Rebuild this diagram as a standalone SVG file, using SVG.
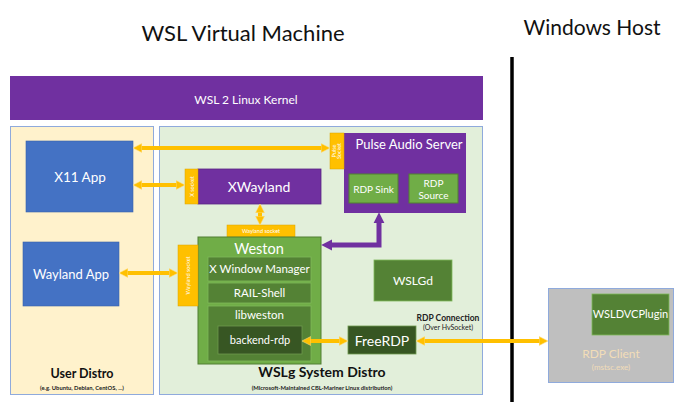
<svg xmlns="http://www.w3.org/2000/svg" width="690" height="402" viewBox="0 0 690 402">
<style>
text{font-family:Lato,"Open Sans",sans-serif;text-anchor:middle}
.w{fill:#fff}
.purple{fill:#7030A0}
.blue{fill:#4472C4;stroke:#3a62aa;stroke-width:0.6}
.yel{fill:#FFC000;stroke:#d9a400;stroke-width:0.5}
.g1{fill:#70AD47;stroke:#507E32;stroke-width:1}
.g2{fill:#548235;stroke:#7fb85a;stroke-width:0.8}
.g3{fill:#375623;stroke:#6e9a4e;stroke-width:0.8}
.ya{stroke:#FFC000;stroke-width:4;fill:none}
.pa{stroke:#7030A0;stroke-width:5;fill:none;stroke-linejoin:miter}
.sock{font-size:5.5px;fill:#fff}
</style>
<defs>
<marker id="yh" viewBox="0 0 10 10" refX="2" refY="5" markerWidth="9" markerHeight="11" markerUnits="userSpaceOnUse" orient="auto-start-reverse">
<path d="M0,0 L10,5 L0,10 Z" fill="#FFC000" stroke="#ffe08a" stroke-width="0.6"/>
</marker>
<marker id="ph" viewBox="0 0 10 10" refX="2" refY="5" markerWidth="11" markerHeight="14" markerUnits="userSpaceOnUse" orient="auto-start-reverse">
<path d="M0,0 L10,5 L0,10 Z" fill="#7030A0"/>
</marker>
</defs>
<rect width="690" height="402" fill="#fff"/>
<text x="243" y="41" font-size="22" fill="#111">WSL Virtual Machine</text>
<text x="592" y="35" font-size="21" fill="#111">Windows Host</text>
<line x1="512" y1="57" x2="512" y2="402" stroke="#000" stroke-width="3.5"/>

<g id="kernel">
<rect x="10" y="76" width="473" height="44" class="purple"/>
<text x="246" y="104" font-size="12" class="w">WSL 2 Linux Kernel</text>
</g>
<g id="user-distro">
<rect x="10.5" y="126.5" width="143" height="268" fill="#FFF2CC" stroke="#8FAADC" stroke-width="1"/>
<text x="82" y="378" font-size="12.5" font-weight="bold" fill="#111">User Distro</text>
<text x="82" y="390" font-size="5.8" font-weight="bold" fill="#222">(e.g. Ubuntu, Debian, CentOS, ...)</text>
</g>
<g id="wslg-distro">
<rect x="159.5" y="126.5" width="323" height="268" fill="#E2EFDA" stroke="#8FAADC" stroke-width="1"/>
<text x="322" y="377" font-size="14" font-weight="bold" fill="#111">WSLg System Distro</text>
<text x="322" y="390" font-size="5.8" font-weight="bold" fill="#222">(Microsoft-Maintained CBL-Mariner Linux distribution)</text>
</g>
<g id="x11-app">
<rect x="26" y="141" width="107" height="71" class="blue"/>
<text x="80" y="182" font-size="13.5" class="w">X11 App</text>
</g>
<g id="wayland-app">
<rect x="23" y="242" width="96" height="64" class="blue"/>
<text x="71" y="279" font-size="13" class="w">Wayland App</text>
</g>
<g id="pulse-audio">
<rect x="344" y="133" width="122" height="80" class="purple"/>
<text x="409" y="149" font-size="13" class="w">Pulse Audio Server</text>
<rect x="330" y="133" width="14" height="36" class="yel"/>
<text class="sock" font-size="4.5" transform="translate(336 151) rotate(-90)">Pulse</text>
<text class="sock" font-size="4.5" transform="translate(341 151) rotate(-90)">Socket</text>
</g>
<g id="rdp-sink">
<rect x="349" y="174" width="49" height="29" class="g1" stroke="none"/>
<text x="373.5" y="193" font-size="10" class="w">RDP Sink</text>
</g>
<g id="rdp-source">
<rect x="409" y="174" width="49" height="29" class="g1" stroke="none"/>
<text x="433.5" y="187" font-size="10" class="w">RDP</text>
<text x="433.5" y="199" font-size="10" class="w">Source</text>
</g>
<g id="xwayland">
<rect x="198" y="169" width="123" height="35" class="purple" stroke="#5a2683" stroke-width="0.8"/>
<text x="259" y="192" font-size="14" class="w">XWayland</text>
<rect x="185" y="169" width="13" height="35" class="yel"/>
<text class="sock" transform="translate(193.5 186.5) rotate(-90)">X socket</text>
</g>
<g id="wayland-socket-top">
<rect x="227" y="225" width="68" height="12" class="yel"/>
<text x="261" y="233" class="sock">Wayland socket</text>
</g>
<g id="weston">
<rect x="198" y="237" width="123" height="127" class="g1"/>
<text x="259" y="254" font-size="14.5" class="w">Weston</text>
<rect x="178" y="245" width="20" height="61" class="yel"/>
<text class="sock" transform="translate(190 275.5) rotate(-90)">Wayland socket</text>
</g>
<g id="x-window-manager">
<rect x="208" y="257" width="103" height="24" class="g2"/>
<text x="259.5" y="273" font-size="11.5" class="w">X Window Manager</text>
</g>
<g id="rail-shell">
<rect x="208" y="283" width="103" height="20" class="g2"/>
<text x="259.5" y="297" font-size="11.5" class="w">RAIL-Shell</text>
</g>
<g id="libweston">
<rect x="208" y="306" width="103" height="55" class="g2"/>
<text x="259.5" y="319" font-size="11.5" class="w">libweston</text>
</g>
<g id="backend-rdp">
<rect x="218" y="326" width="84" height="28" class="g3"/>
<text x="260" y="344" font-size="11" class="w">backend-rdp</text>
</g>
<g id="wslgd">
<rect x="374" y="260" width="78" height="41" class="g2"/>
<text x="413" y="285" font-size="12" class="w">WSLGd</text>
</g>
<g id="freerdp">
<rect x="348" y="326" width="68" height="28" class="g3"/>
<text x="382" y="346" font-size="14" class="w">FreeRDP</text>
</g>
<g id="rdp-client">
<rect x="548.5" y="288.5" width="125" height="94" fill="#BFBFBF" stroke="#8FAADC" stroke-width="1"/>
<text x="611" y="358" font-size="12" fill="#F2DDB8">RDP Client</text>
<text x="611" y="370" font-size="8" fill="#F2DDB8">(mstsc.exe)</text>
</g>
<g id="wsldvcplugin">
<rect x="592" y="294" width="77" height="41" class="g2" stroke="#3d6328"/>
<text x="630.5" y="318" font-size="11" class="w">WSLDVCPlugin</text>
</g>

<g id="connectors">
<line x1="140" y1="148" x2="323" y2="148" class="ya" marker-start="url(#yh)" marker-end="url(#yh)"/>
<line x1="140" y1="185" x2="178" y2="185" class="ya" marker-start="url(#yh)" marker-end="url(#yh)"/>
<line x1="260" y1="211" x2="260" y2="218" class="ya" marker-start="url(#yh)" marker-end="url(#yh)"/>
<line x1="126" y1="273" x2="171" y2="273" class="ya" marker-start="url(#yh)" marker-end="url(#yh)"/>
<line x1="309" y1="341" x2="341" y2="341" class="ya" marker-start="url(#yh)" marker-end="url(#yh)"/>
<line x1="423" y1="341" x2="541" y2="341" class="ya" marker-start="url(#yh)" marker-end="url(#yh)"/>
<polyline points="379,221 379,245 330,245" class="pa" marker-start="url(#ph)" marker-end="url(#ph)"/>
<text x="448" y="321" font-size="8.5" font-weight="bold" fill="#222">RDP Connection</text>
<text x="448" y="330" font-size="7" fill="#222">(Over HvSocket)</text>
</g>
</svg>
